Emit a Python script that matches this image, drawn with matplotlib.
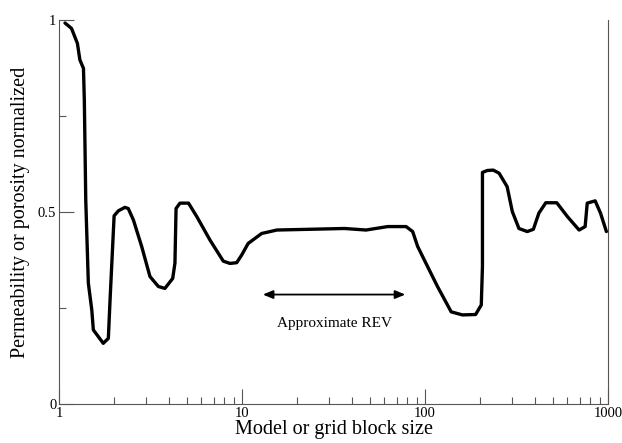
import numpy as np
import matplotlib.pyplot as plt
from matplotlib.ticker import FixedLocator, NullFormatter, LogLocator

plt.rcParams["font.family"] = ["Liberation Serif", "DejaVu Serif"]

# curve (block size, normalized value)
block_size = [1.078, 1.17, 1.26, 1.30, 1.36, 1.375, 1.40, 1.446, 1.51, 1.54,
              1.745, 1.86, 1.90, 2.0, 2.11, 2.29, 2.39, 2.55, 2.83, 3.14,
              3.49, 3.79, 4.18, 4.30, 4.36, 4.58, 5.10, 5.66, 6.68, 7.9,
              8.6, 9.35, 9.96, 10.8, 12.8, 15.5, 23.8, 36.3, 47.6, 62.5,
              78.8, 85.6, 91.2, 105.5, 117, 139, 160, 189, 203, 206,
              206, 219, 236, 254, 281, 300, 326, 362, 391, 419,
              457, 525, 600, 695, 750, 770, 851, 910, 980]
normalized = [0.992, 0.978, 0.939, 0.896, 0.874, 0.79, 0.53, 0.315, 0.245, 0.193,
              0.158, 0.171, 0.27, 0.49, 0.503, 0.512, 0.509, 0.479, 0.41, 0.332,
              0.306, 0.301, 0.327, 0.367, 0.509, 0.523, 0.523, 0.488, 0.427, 0.372,
              0.366, 0.368, 0.388, 0.418, 0.444, 0.453, 0.455, 0.457, 0.453, 0.462,
              0.462, 0.449, 0.41, 0.349, 0.306, 0.24, 0.232, 0.233, 0.258, 0.358,
              0.603, 0.608, 0.609, 0.601, 0.566, 0.501, 0.457, 0.449, 0.455, 0.497,
              0.524, 0.524, 0.488, 0.453, 0.462, 0.523, 0.529, 0.497, 0.449]

rev_start, rev_end, rev_level = 13.0, 78.0, 0.285
rev_label = "Approximate REV"

fig = plt.figure(figsize=(6.22, 4.43), dpi=100)
ax = fig.add_axes([0.0949, 0.088, 0.8826, 0.867])

ax.plot(block_size, normalized, color="black", lw=2.4, solid_joinstyle="round",
        solid_capstyle="round")

ax.annotate("", xy=(rev_end, rev_level), xytext=(rev_start, rev_level),
            arrowprops=dict(arrowstyle="<|-|>,head_length=0.6,head_width=0.25",
                            color="black", lw=1.3, mutation_scale=10,
                            shrinkA=0, shrinkB=0))
ax.text(np.sqrt(rev_start * rev_end), 0.21, rev_label, ha="center", va="center",
        fontsize=11)

ax.set_xscale("log")
ax.set_xlim(1, 1000)
ax.set_ylim(0, 1)
ax.set_xticks([1, 10, 100, 1000])
ax.set_xticklabels(["1", "10", "100", "1000"])
ax.xaxis.set_minor_locator(LogLocator(base=10, subs=np.arange(2, 10)))
ax.xaxis.set_minor_formatter(NullFormatter())
ax.set_yticks([0, 0.5, 1])
ax.set_yticklabels(["0", "0.5", "1"])
ax.yaxis.set_minor_locator(FixedLocator([0.25, 0.75]))

ax.tick_params(which="major", direction="in", length=11, width=0.8,
               color="#555555", labelsize=10.5, pad=2)
ax.tick_params(which="minor", direction="in", length=5, width=0.8, color="#555555")
ax.tick_params(axis="y", which="both", right=False)

ax.spines["top"].set_visible(False)
for side in ("left", "bottom", "right"):
    ax.spines[side].set_color("#555555")
    ax.spines[side].set_linewidth(0.8)

ax.set_xlabel("Model or grid block size", fontsize=14.5, labelpad=0)
ax.set_ylabel("Permeability or porosity normalized", fontsize=14.5, labelpad=6)

fig.savefig("out.png", dpi=100)
